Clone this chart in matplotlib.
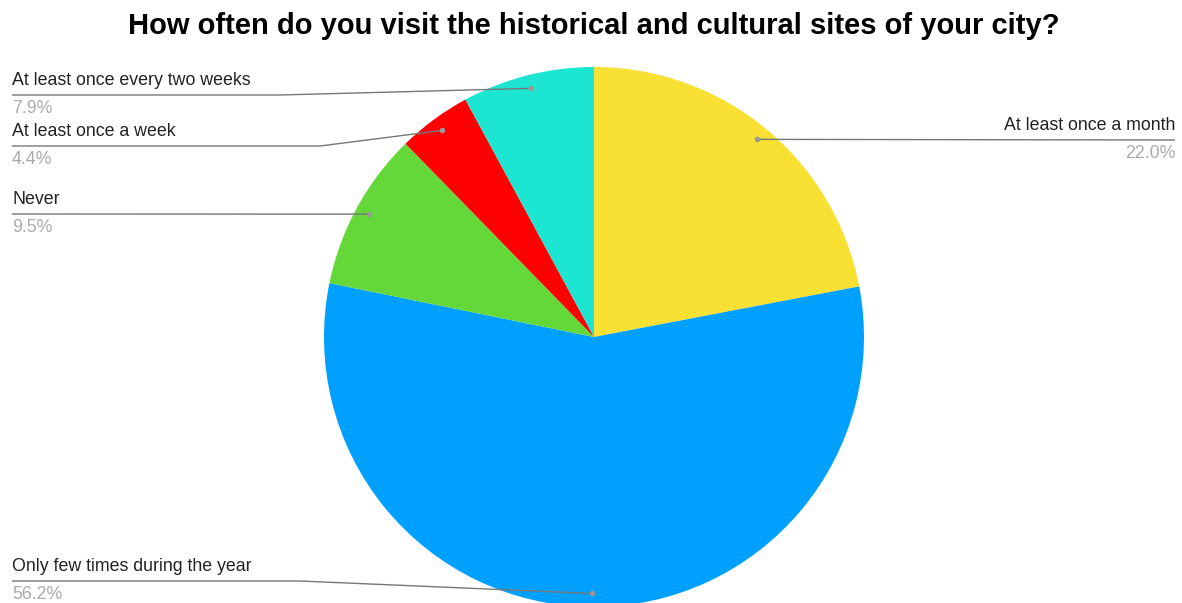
import numpy as np
import matplotlib
matplotlib.use("Agg")
import matplotlib.pyplot as plt

plt.rcParams['font.family'] = ['Liberation Sans', 'DejaVu Sans']

title = "How often do you visit the historical and cultural sites of your city?"
categories = ["At least once a month", "Only few times during the year", "Never",
              "At least once a week", "At least once every two weeks"]
shares = [22.0, 56.2, 9.5, 4.4, 7.9]
colors = ["#f8e133", "#00a0ff", "#63d838", "#ff0000", "#1ce6d2"]

W, H = 1182, 603
fig = plt.figure(figsize=(W / 100, H / 100), dpi=100)
ax = fig.add_axes([0, 0, 1, 1])

cx, cy, R = 594, H - 337, 270
ax.pie(shares, colors=colors, startangle=90, counterclock=False,
       center=(cx, cy), radius=R, frame=True,
       wedgeprops=dict(linewidth=0))
ax.set_xlim(0, W)
ax.set_ylim(0, H)
ax.set_aspect('equal')
ax.axis('off')

# label layout: (side, line y in px from top, elbow x or None)
layout = {
    "At least once a month": ("right", 140, None),
    "Only few times during the year": ("left", 581, 300),
    "Never": ("left", 214, None),
    "At least once a week": ("left", 146, 320),
    "At least once every two weeks": ("left", 95, 280),
}

angles = np.cumsum([0] + shares)
for i, (cat, val) in enumerate(zip(categories, shares)):
    mid = 90 - (angles[i] + val / 2) * 3.6
    dx = cx + 0.95 * R * np.cos(np.radians(mid))
    dy = cy + 0.95 * R * np.sin(np.radians(mid))
    side, ly, elbow = layout[cat]
    ly = H - ly
    if side == "right":
        xe = 1175
        xs, ys = [dx, xe], [dy, ly]
        ha = 'right'
    else:
        xe = 12
        if elbow is None:
            xs, ys = [dx, xe], [dy, ly]
        else:
            xs, ys = [dx, elbow, xe], [dy, ly, ly]
        ha = 'left'
    ax.plot(xs, ys, color='#777777', lw=1.0, solid_capstyle='butt')
    ax.plot([dx], [dy], 'o', color='#999999', ms=4, mec='none')
    ax.text(xe, ly + 6, cat, ha=ha, va='bottom', fontsize=12.8, color='#222222')
    ax.text(xe, ly - 5, f"{val:.1f}%", ha=ha, va='top', fontsize=12.8, color='#aaaaaa')

fig.text(594 / W, 1 - 26 / H, title, ha='center', va='center',
         fontsize=21, fontweight='bold', color='#000000')

fig.savefig("out.png", dpi=100)
